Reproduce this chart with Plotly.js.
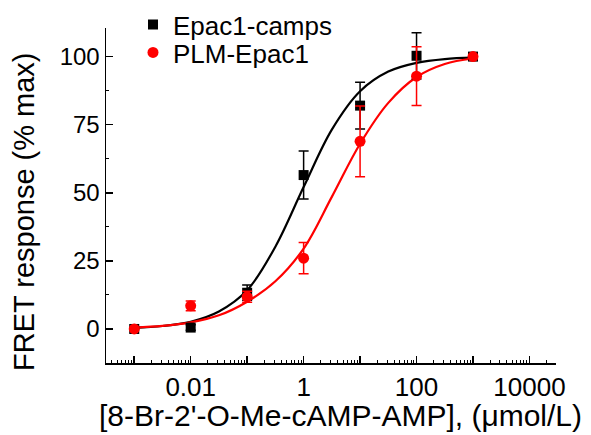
<!DOCTYPE html>
<html>
<head>
<meta charset="utf-8">
<script src="https://cdn.plot.ly/plotly-3.0.1.min.js"></script>
<style>html,body{margin:0;padding:0;background:#fff;}#chart{width:591px;height:435px;}</style>
</head>
<body>
<div id="chart"></div>
<script>
// Concentrations (µmol/L)
var concentrations = [0.001, 0.01, 0.1, 1, 10, 100, 1000];

// Epac1-camps (black squares)
var epacValues = [0, 0.5, 13.3, 56.5, 82, 100.3, 100];
var epacErrors = [0, 1, 2.8, 8.8, 8.6, 8.5, 0];

// PLM-Epac1 (red circles)
var plmValues = [0, 8.5, 11.8, 26, 68.9, 92.8, 100];
var plmErrors = [0, 1.8, 2, 5.7, 13, 10.8, 0];

// Fitted dose-response curves at half-decade steps
var fitX = [0.001, 0.00316, 0.01, 0.0316, 0.1, 0.316, 1, 3.16, 10, 31.6, 100, 316, 1000];
var epacFit = [0.43, 1.08, 2.66, 6.43, 14.2, 30.2, 52.1, 73.2, 87.3, 94.5, 97.7, 99.1, 99.6];
var plmFit = [0.5, 1.1, 2.4, 5.0, 10.0, 17.5, 29.5, 48.5, 68, 83, 92.5, 97.3, 99.3];

// Axis ticks
var xTickVals = [0.001, 0.01, 0.1, 1, 10, 100, 1000, 10000];
var xTickText = ['', '0.01', '', '1', '', '100', '', '10000'];
var yTickVals = [0, 25, 50, 75, 100];
var yTickText = ['0', '25', '50', '75', '100'];

var seriesNames = ['Epac1-camps', 'PLM-Epac1'];
var xTitle = "[8-Br-2'-O-Me-cAMP-AMP], (\u03bcmol/L)";
var yTitle = 'FRET response (% max)';

var xMinor = [];
[0.0001, 0.001, 0.01, 0.1, 1, 10, 100, 1000, 10000].forEach(function (d) {
  for (var k = 2; k <= 9; k++) xMinor.push(d * k);
});

var FONT = 'Liberation Sans, Arial, sans-serif';

var traces = [
  {x: fitX, y: epacFit, mode: 'lines', line: {color: '#000', width: 2.2, shape: 'spline', smoothing: 1}, showlegend: false, hoverinfo: 'skip'},
  {x: fitX, y: plmFit, mode: 'lines', line: {color: '#ff0000', width: 2.2, shape: 'spline', smoothing: 1}, showlegend: false, hoverinfo: 'skip'},
  {x: concentrations, y: epacValues, name: seriesNames[0], mode: 'markers', legend: 'legend',
   marker: {symbol: 'square', size: 10, color: '#000'},
   error_y: {type: 'data', array: epacErrors, visible: true, color: '#000', thickness: 1.5, width: 5}},
  {x: concentrations, y: plmValues, name: seriesNames[1], mode: 'markers', legend: 'legend2',
   marker: {symbol: 'circle', size: 11, color: '#ff0000'},
   error_y: {type: 'data', array: plmErrors, visible: true, color: '#ff0000', thickness: 1.5, width: 5}}
];

var legendFont = {family: FONT, size: 26, color: '#000'};

var layout = {
  width: 591, height: 435,
  margin: {l: 106, r: 35, t: 28, b: 72, autoexpand: false},
  paper_bgcolor: '#fff', plot_bgcolor: '#fff',
  font: {family: FONT, color: '#000', size: 24},
  showlegend: true,
  legend: {x: 0.06, y: 1.08, xanchor: 'left', yanchor: 'top', bgcolor: 'rgba(0,0,0,0)', font: legendFont},
  legend2: {x: 0.06, y: 0.997, xanchor: 'left', yanchor: 'top', bgcolor: 'rgba(0,0,0,0)', font: legendFont},
  xaxis: {
    type: 'log', range: [-3.5, 4.47],
    tickmode: 'array', tickvals: xTickVals, ticktext: xTickText,
    ticks: 'inside', ticklen: 7, tickwidth: 1.5, tickcolor: '#000',
    showline: true, linecolor: '#000', linewidth: 1.5,
    showgrid: false, zeroline: false,
    tickfont: {family: FONT, size: 26, color: '#000'},
    minor: {tickmode: 'array', tickvals: xMinor, ticks: 'inside', ticklen: 3, tickwidth: 1, tickcolor: '#000', showgrid: false}
  },
  yaxis: {
    range: [-12.5, 110.5],
    tickmode: 'array', tickvals: yTickVals, ticktext: yTickText,
    ticks: 'inside', ticklen: 7, tickwidth: 1.5, tickcolor: '#000',
    showline: true, linecolor: '#000', linewidth: 1.5,
    showgrid: false, zeroline: false,
    tickfont: {family: FONT, size: 24, color: '#000'},
    minor: {tickmode: 'array', tickvals: [-12.5, 12.5, 37.5, 62.5, 87.5], ticks: 'inside', ticklen: 3, tickwidth: 1, tickcolor: '#000', showgrid: false}
  },
  annotations: [
    {text: xTitle, xref: 'paper', yref: 'paper', x: 0.522, y: -0.158, xanchor: 'center', yanchor: 'middle',
     showarrow: false, font: {family: FONT, size: 30, color: '#000'}},
    {text: yTitle, xref: 'paper', yref: 'paper', x: -0.182, y: 0.451, xanchor: 'center', yanchor: 'middle',
     textangle: -90, showarrow: false, font: {family: FONT, size: 29, color: '#000'}}
  ]
};

Plotly.newPlot('chart', traces, layout, {displayModeBar: false, staticPlot: true});
</script>
</body>
</html>
